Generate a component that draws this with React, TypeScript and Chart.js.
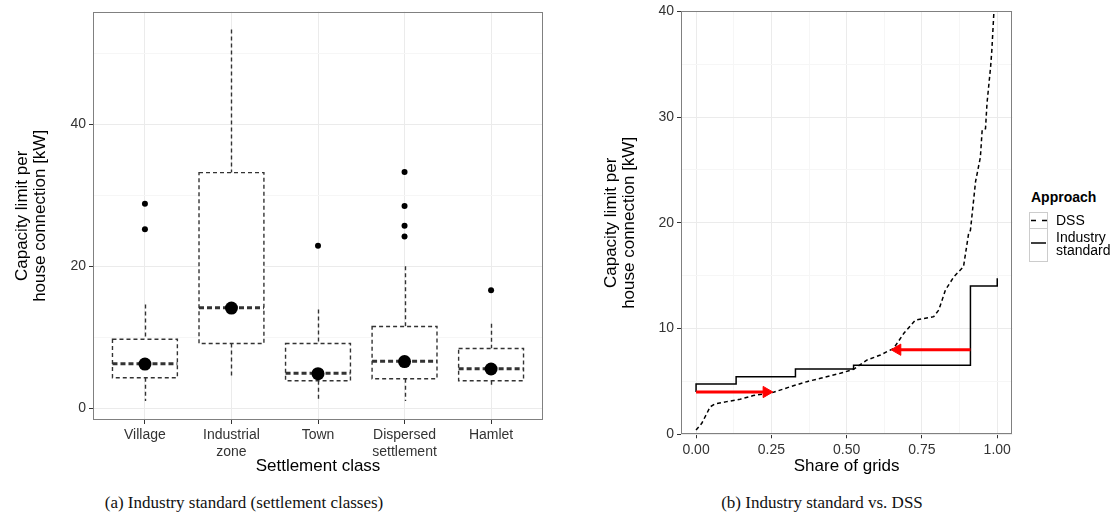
import React, { useEffect, useRef } from 'react';
import { Chart, registerables } from 'chart.js';

Chart.register(...registerables);

// ---------------- Panel (a): industry standard per settlement class ----------------
const settlementClasses = ['Village', 'Industrial zone', 'Town', 'Dispersed settlement', 'Hamlet'];
const settlementTickLines = [['Village'], ['Industrial', 'zone'], ['Town'], ['Dispersed', 'settlement'], ['Hamlet']];
const whiskerLow = [1.0, 4.2, 0.9, 1.0, 3.2];
const quartile1 = [4.27, 9.1, 3.85, 4.13, 3.85];
const medians = [6.25, 14.15, 4.9, 6.6, 5.55];
const quartile3 = [9.7, 33.2, 9.1, 11.5, 8.4];
const whiskerHigh = [14.6, 53.4, 13.9, 20.0, 11.9];
const centreDots = [6.2, 14.1, 4.85, 6.55, 5.5];
const outliersVillage = [28.8, 25.2];
const outliersIndustrial: number[] = [];
const outliersTown = [22.9];
const outliersDispersed = [33.3, 28.5, 25.7, 24.2];
const outliersHamlet = [16.6];
const yTicksA = [0, 10, 20, 30, 40, 50];
const yMajorTicksA = [0, 20, 40];

// ---------------- Panel (b): industry standard vs. DSS ----------------
const dssShare = [0.0, 0.019, 0.047, 0.063, 0.102, 0.146, 0.19, 0.257, 0.313, 0.368, 0.413, 0.479, 0.523, 0.568, 0.612, 0.656, 0.69, 0.728, 0.789, 0.806, 0.828, 0.856, 0.888, 0.905, 0.911, 0.928, 0.944, 0.95, 0.961, 0.966, 0.978, 0.982, 0.989];
const dssCapacity = [0.4, 1.04, 2.6, 2.87, 3.09, 3.31, 3.66, 3.97, 4.5, 4.98, 5.3, 5.77, 6.15, 7.03, 7.5, 8.13, 9.55, 10.8, 11.13, 11.76, 13.65, 14.9, 15.86, 19.0, 19.3, 23.9, 26.2, 28.8, 28.9, 31.3, 34.76, 36.3, 40.0];
const industryShare = [0, 0, 0.133, 0.33, 0.523, 0.911, 1.0];
const industryCapacity = [4.0, 4.76, 5.45, 6.18, 6.52, 14.03, 14.76];
const arrowRightShare = [0, 0.2335];
const arrowRightCapacity = [4.0, 4.0];
const arrowLeftShare = [0.911, 0.669];
const arrowLeftCapacity = [8.0, 8.0];
const xTicksB = [0, 0.125, 0.25, 0.375, 0.5, 0.625, 0.75, 0.875, 1.0];
const xMajorTicksB = [0, 0.25, 0.5, 0.75, 1.0];
const yTicksB = [0, 5, 10, 15, 20, 25, 30, 35, 40];
const yMajorTicksB = [0, 10, 20, 30, 40];

// ---------------- styling ----------------
const SANS = "'Liberation Sans', Arial, Helvetica, sans-serif";
const TICK_COLOR = '#333333';
const MAJOR_GRID = '#ebebeb';
const MINOR_GRID = '#f6f6f6';
const BOX_HALF_WIDTH = 0.375;

const outlierGroups = [outliersVillage, outliersIndustrial, outliersTown, outliersDispersed, outliersHamlet];

const panelBorderPlugin = {
  id: 'panelBorder',
  afterDraw(chart: any) {
    const { ctx, chartArea } = chart;
    const l = Math.round(chartArea.left) + 0.5;
    const t = Math.round(chartArea.top) + 0.5;
    const r = Math.round(chartArea.right) - 0.5;
    const b = Math.round(chartArea.bottom) - 0.5;
    ctx.save();
    ctx.strokeStyle = '#808080';
    ctx.lineWidth = 1;
    ctx.setLineDash([]);
    ctx.strokeRect(l, t, r - l, b - t);
    ctx.restore();
  },
};

const boxPlotPlugin = {
  id: 'boxPlot',
  beforeDatasetsDraw(chart: any) {
    const { ctx, chartArea } = chart;
    const xs = chart.scales.x;
    const ys = chart.scales.y;
    ctx.save();
    ctx.beginPath();
    ctx.rect(chartArea.left, chartArea.top, chartArea.width, chartArea.height);
    ctx.clip();
    ctx.strokeStyle = '#333333';
    const seg = (x1: number, y1: number, x2: number, y2: number) => {
      ctx.beginPath();
      ctx.moveTo(x1, y1);
      ctx.lineTo(x2, y2);
      ctx.stroke();
    };
    settlementClasses.forEach((_, i) => {
      const xc = Math.round(xs.getPixelForValue(i)) + 0.5;
      const xl = xs.getPixelForValue(i - BOX_HALF_WIDTH);
      const xr = xs.getPixelForValue(i + BOX_HALF_WIDTH);
      const yLo = ys.getPixelForValue(whiskerLow[i]);
      const yQ1 = ys.getPixelForValue(quartile1[i]);
      const yMed = ys.getPixelForValue(medians[i]);
      const yQ3 = ys.getPixelForValue(quartile3[i]);
      const yHi = ys.getPixelForValue(whiskerHigh[i]);
      ctx.lineWidth = 1.4;
      ctx.setLineDash([4, 3]);
      seg(xc, yHi, xc, yQ3);
      seg(xc, yQ1, xc, yLo);
      ctx.fillStyle = '#ffffff';
      ctx.fillRect(xl, yQ3, xr - xl, yQ1 - yQ3);
      ctx.strokeRect(xl, yQ3, xr - xl, yQ1 - yQ3);
      ctx.lineWidth = 3;
      ctx.setLineDash([5, 3]);
      seg(xl, yMed, xr, yMed);
    });
    ctx.restore();
  },
};

const tickFont = { family: SANS, size: 14 };
const titleFont = { family: SANS, size: 17, lineHeight: 1.1 };

function buildConfigA(): any {
  const outlierPoints: { x: number; y: number }[] = [];
  outlierGroups.forEach((group, i) => group.forEach((v) => outlierPoints.push({ x: i, y: v })));
  const dotPoints = centreDots.map((v, i) => ({ x: i, y: v }));
  return {
    type: 'scatter',
    data: {
      datasets: [
        { label: 'centre', data: dotPoints, pointRadius: 6.5, pointBackgroundColor: '#000', pointBorderColor: '#000', pointBorderWidth: 0 },
        { label: 'outliers', data: outlierPoints, pointRadius: 3, pointBackgroundColor: '#000', pointBorderColor: '#000', pointBorderWidth: 0 },
      ],
    },
    options: {
      animation: false,
      responsive: false,
      events: [],
      layout: { padding: { top: 11.7, right: 17, left: 0, bottom: 0 } },
      plugins: { legend: { display: false }, tooltip: { enabled: false } },
      scales: {
        x: {
          type: 'linear',
          min: -0.6,
          max: 4.6,
          afterBuildTicks: (s: any) => { s.ticks = settlementClasses.map((_, i) => ({ value: i })); },
          afterFit: (s: any) => { s.height = 60; },
          ticks: { callback: (v: number) => settlementTickLines[v] ?? '', color: TICK_COLOR, font: tickFont, padding: 3, maxRotation: 0, autoSkip: false },
          grid: { color: MAJOR_GRID, tickColor: TICK_COLOR, tickLength: 4, lineWidth: 1 },
          border: { display: false },
          title: { display: true, text: 'Settlement class', color: '#000', font: titleFont, padding: { top: 0, bottom: 4.6 } },
        },
        y: {
          type: 'linear',
          min: -1.69,
          max: 55.9,
          afterBuildTicks: (s: any) => { s.ticks = yTicksA.map((v) => ({ value: v })); },
          afterFit: (s: any) => { s.width = 93; },
          ticks: { callback: (v: number) => (yMajorTicksA.includes(v) ? String(v) : ''), color: TICK_COLOR, font: tickFont, padding: 3, autoSkip: false },
          grid: {
            color: (c: any) => (yMajorTicksA.includes(c.tick?.value) ? MAJOR_GRID : MINOR_GRID),
            tickColor: (c: any) => (yMajorTicksA.includes(c.tick?.value) ? TICK_COLOR : 'rgba(0,0,0,0)'),
            tickLength: 4,
            lineWidth: 1,
          },
          border: { display: false },
          title: { display: true, text: ['Capacity limit per', 'house connection [kW]'], color: '#000', font: titleFont, padding: { top: 12.6, bottom: 0 } },
        },
      },
    },
    plugins: [boxPlotPlugin, panelBorderPlugin],
  };
}

function buildConfigB(): any {
  const dssPoints = dssShare.map((s, i) => ({ x: s, y: dssCapacity[i] }));
  const industryPoints: { x: number; y: number }[] = [];
  industryShare.forEach((s, i) => {
    industryPoints.push({ x: s, y: industryCapacity[i] });
    if (i + 1 < industryShare.length) industryPoints.push({ x: industryShare[i + 1], y: industryCapacity[i] });
  });
  const arrowR = arrowRightShare.map((s, i) => ({ x: s, y: arrowRightCapacity[i] }));
  const arrowL = arrowLeftShare.map((s, i) => ({ x: s, y: arrowLeftCapacity[i] }));
  const arrowStyle = {
    showLine: true,
    borderColor: '#ff0000',
    borderWidth: 3,
    pointStyle: 'triangle',
    pointRadius: [0, 6.5],
    pointBackgroundColor: '#ff0000',
    pointBorderColor: '#ff0000',
    pointBorderWidth: 1,
  };
  return {
    type: 'scatter',
    data: {
      datasets: [
        { label: 'arrow right', data: arrowR, ...arrowStyle, pointRotation: 90 },
        { label: 'arrow left', data: arrowL, ...arrowStyle, pointRotation: -90 },
        { label: 'DSS', data: dssPoints, showLine: true, borderColor: '#000', borderWidth: 1.5, borderDash: [4, 3], pointRadius: 0, tension: 0 },
        { label: 'Industry standard', data: industryPoints, showLine: true, borderColor: '#000', borderWidth: 1.5, pointRadius: 0, tension: 0 },
      ],
    },
    options: {
      animation: false,
      responsive: false,
      events: [],
      layout: { padding: { top: 11, right: 17.7, left: 0, bottom: 0 } },
      plugins: { legend: { display: false }, tooltip: { enabled: false } },
      scales: {
        x: {
          type: 'linear',
          min: -0.05,
          max: 1.05,
          afterBuildTicks: (s: any) => { s.ticks = xTicksB.map((v) => ({ value: v })); },
          afterFit: (s: any) => { s.height = 45.7; },
          ticks: { callback: (v: number) => (xMajorTicksB.includes(v) ? v.toFixed(2) : ''), color: TICK_COLOR, font: tickFont, padding: 3, maxRotation: 0, autoSkip: false },
          grid: {
            color: (c: any) => (xMajorTicksB.includes(c.tick?.value) ? MAJOR_GRID : MINOR_GRID),
            tickColor: (c: any) => (xMajorTicksB.includes(c.tick?.value) ? TICK_COLOR : 'rgba(0,0,0,0)'),
            tickLength: 4,
            lineWidth: 1,
          },
          border: { display: false },
          title: { display: true, text: 'Share of grids', color: '#000', font: titleFont, padding: { top: 0, bottom: 4.6 } },
        },
        y: {
          type: 'linear',
          min: 0,
          max: 40,
          afterBuildTicks: (s: any) => { s.ticks = yTicksB.map((v) => ({ value: v })); },
          afterFit: (s: any) => { s.width = 101; },
          ticks: { callback: (v: number) => (yMajorTicksB.includes(v) ? String(v) : ''), color: TICK_COLOR, font: tickFont, padding: 3, autoSkip: false },
          grid: {
            color: (c: any) => (yMajorTicksB.includes(c.tick?.value) ? MAJOR_GRID : MINOR_GRID),
            tickColor: (c: any) => (yMajorTicksB.includes(c.tick?.value) ? TICK_COLOR : 'rgba(0,0,0,0)'),
            tickLength: 4,
            lineWidth: 1,
          },
          border: { display: false },
          title: { display: true, text: ['Capacity limit per', 'house connection [kW]'], color: '#000', font: titleFont, padding: { top: 21.5, bottom: 0 } },
        },
      },
    },
    plugins: [panelBorderPlugin],
  };
}

function ChartCanvas({ build, width, height }: { build: () => any; width: number; height: number }) {
  const ref = useRef<HTMLCanvasElement | null>(null);
  useEffect(() => {
    if (!ref.current) return;
    const chart = new Chart(ref.current, build());
    return () => chart.destroy();
  }, [build]);
  return <canvas ref={ref} width={width} height={height} style={{ display: 'block', width, height }} />;
}

export default function App() {
  const abs = (l: number, t: number): React.CSSProperties => ({ position: 'absolute', left: l, top: t });
  return (
    <div style={{ position: 'absolute', left: 0, top: 0, width: 1117, height: 520, background: '#fff', overflow: 'hidden' }}>
      <div style={abs(0, 0)}>
        <ChartCanvas build={buildConfigA} width={560} height={480} />
      </div>
      <div style={abs(580, 0)}>
        <ChartCanvas build={buildConfigB} width={450} height={480} />
      </div>

      {/* legend */}
      <div style={{ ...abs(1031, 188), fontFamily: SANS, fontSize: 14, fontWeight: 'bold', lineHeight: '18px', color: '#000' }}>Approach</div>
      <div style={{ ...abs(1029, 212), width: 19, height: 17, boxSizing: 'border-box', border: '1px solid #cccccc', background: '#fff' }}>
        <svg width={17} height={15} style={{ display: 'block' }}>
          <line x1={1} y1={7.5} x2={17} y2={7.5} stroke="#000" strokeWidth={1.5} strokeDasharray="5,6" />
        </svg>
      </div>
      <div style={{ ...abs(1056, 212), fontFamily: SANS, fontSize: 14, lineHeight: '17px', color: '#000' }}>DSS</div>
      <div style={{ ...abs(1029, 228), width: 19, height: 34, boxSizing: 'border-box', border: '1px solid #cccccc', background: '#fff' }}>
        <svg width={17} height={32} style={{ display: 'block' }}>
          <line x1={1} y1={14} x2={16} y2={14} stroke="#000" strokeWidth={1.5} />
        </svg>
      </div>
      <div style={{ ...abs(1056, 231), fontFamily: SANS, fontSize: 14, lineHeight: '13px', color: '#000' }}>
        Industry<br />standard
      </div>

      {/* captions */}
      <div style={{ ...abs(44, 492), width: 400, textAlign: 'center', fontFamily: "'Liberation Serif', 'DejaVu Serif', serif", fontSize: 17, lineHeight: '22px', color: '#111' }}>
        (a) Industry standard (settlement classes)
      </div>
      <div style={{ ...abs(622, 492), width: 400, textAlign: 'center', fontFamily: "'Liberation Serif', 'DejaVu Serif', serif", fontSize: 17, lineHeight: '22px', color: '#111' }}>
        (b) Industry standard vs. DSS
      </div>
    </div>
  );
}
